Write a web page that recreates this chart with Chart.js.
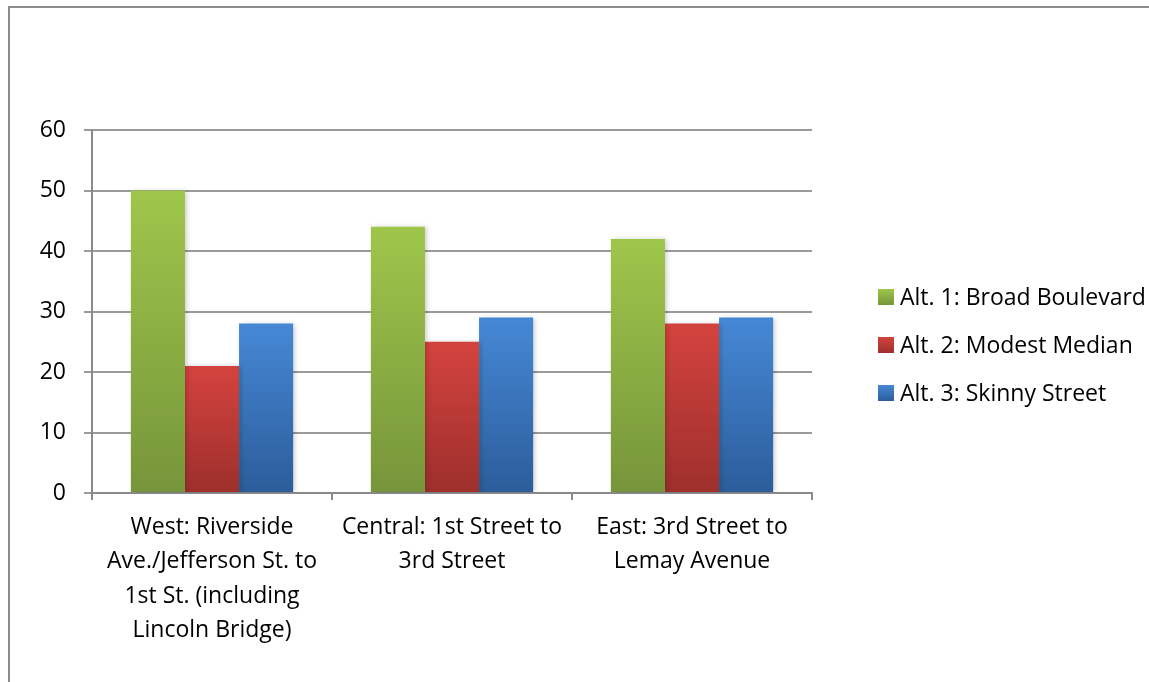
<!DOCTYPE html>
<html>
<head>
<meta charset="utf-8">
<script src="https://cdn.jsdelivr.net/npm/chart.js@4/dist/chart.umd.min.js"></script>
<style>
  html, body { margin: 0; padding: 0; background: #fff; overflow: hidden; width: 1149px; height: 682px; }
  #frame { position: absolute; left: 8px; top: 6px; width: 1300px; height: 800px; border-left: 2px solid #8c8c8c; border-top: 2px solid #8c8c8c; }
  #wrap { position: absolute; left: 0; top: 0; width: 1149px; height: 682px; }
</style>
</head>
<body>
<div id="frame"></div>
<div id="wrap"><canvas id="c"></canvas></div>
<script>
const categories = [
  ["West: Riverside", "Ave./Jefferson St. to", "1st St. (including", "Lincoln Bridge)"],
  ["Central: 1st Street to", "3rd Street"],
  ["East: 3rd Street to", "Lemay Avenue"]
];
const seriesNames = ["Alt. 1: Broad Boulevard", "Alt. 2: Modest Median", "Alt. 3: Skinny Street"];
const broadBoulevard = [50, 44, 42];
const modestMedian = [21, 25, 28];
const skinnyStreet = [28, 29, 29];
const yTicks = [0, 10, 20, 30, 40, 50, 60];

const FONT = "'Open Sans', 'Noto Sans', sans-serif";
const palette = [
  { top: '#9fc64b', bottom: '#76953a', mid: '#8cb043' },
  { top: '#d4433e', bottom: '#9d2f2c', mid: '#c03c38' },
  { top: '#4688d6', bottom: '#2b5d9a', mid: '#3a74bd' }
];

function gradientFor(i) {
  return function (ctx) {
    const chart = ctx.chart;
    const area = chart.chartArea;
    if (!area || ctx.type !== 'data') return palette[i].mid;
    const y = chart.scales.y;
    const top = y.getPixelForValue(ctx.raw);
    const bottom = y.getPixelForValue(0);
    const g = chart.ctx.createLinearGradient(0, top, 0, bottom);
    g.addColorStop(0, palette[i].top);
    g.addColorStop(1, palette[i].bottom);
    return g;
  };
}

const shadowPlugin = {
  id: 'barShadow',
  beforeDatasetsDraw(chart) {
    const c = chart.ctx;
    c.save();
    c.shadowColor = 'rgba(0,0,0,0.22)';
    c.shadowBlur = 5;
    c.shadowOffsetX = 2;
    c.shadowOffsetY = 0;
  },
  afterDatasetsDraw(chart) {
    chart.ctx.restore();
  }
};

// Legend drawn beside the plot from the chart's own dataset labels/colours
const sideLegend = {
  id: 'sideLegend',
  afterDraw(chart) {
    const c = chart.ctx;
    const boxX = 878, box = 16, textX = 900, firstY = 297, step = 48;
    c.save();
    c.font = "23px " + FONT;
    c.textBaseline = 'middle';
    c.textAlign = 'left';
    chart.data.datasets.forEach((ds, i) => {
      const cy = firstY + i * step;
      const g = c.createLinearGradient(0, cy - box / 2, 0, cy + box / 2);
      g.addColorStop(0, palette[i].top);
      g.addColorStop(1, palette[i].bottom);
      c.fillStyle = g;
      c.fillRect(boxX, cy - box / 2, box, box);
      c.fillStyle = '#000';
      c.fillText(ds.label, textX, cy + 1);
    });
    c.restore();
  }
};

const seriesValues = [broadBoulevard, modestMedian, skinnyStreet];
const datasets = seriesValues.map((vals, i) => ({
  label: seriesNames[i],
  data: vals,
  backgroundColor: gradientFor(i),
  borderWidth: 0,
  categoryPercentage: 0.676,
  barPercentage: 1.0
}));

new Chart(document.getElementById('c'), {
  type: 'bar',
  data: { labels: categories, datasets },
  plugins: [shadowPlugin, sideLegend],
  options: {
    responsive: true,
    maintainAspectRatio: false,
    animation: false,
    layout: { padding: { top: 130, left: 0, right: 337, bottom: 0 } },
    plugins: {
      title: { display: false },
      tooltip: { enabled: false },
      legend: { display: false }
    },
    scales: {
      x: {
        grid: {
          display: true,
          offset: true,
          drawOnChartArea: false,
          drawTicks: true,
          tickLength: 7,
          color: '#8a8a8a',
          lineWidth: 2
        },
        border: { display: true, color: '#8a8a8a', width: 2 },
        ticks: {
          color: '#000',
          padding: 10,
          maxRotation: 0,
          autoSkip: false,
          font: { family: FONT, size: 23, lineHeight: 1.5 }
        },
        afterFit(s) { s.height = 189; }
      },
      y: {
        min: 0,
        max: 60,
        afterBuildTicks(s) { s.ticks = yTicks.map(v => ({ value: v })); },
        grid: {
          display: true,
          drawTicks: true,
          tickLength: 8,
          color: '#9a9a9a',
          lineWidth: 2
        },
        border: { display: true, color: '#8a8a8a', width: 2 },
        ticks: {
          color: '#000',
          padding: 18,
          font: { family: FONT, size: 23 }
        },
        afterFit(s) { s.width = 92; }
      }
    }
  }
});
</script>
</body>
</html>
